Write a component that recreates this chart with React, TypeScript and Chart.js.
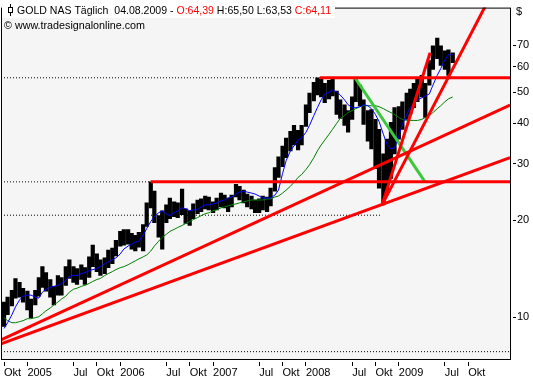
import { useEffect, useRef } from "react";
import { Chart, registerables } from "chart.js";

Chart.register(...registerables);

const FONT = '"Liberation Sans", Arial, sans-serif';

// Semi-monthly sampling of the daily bars (high / low envelope of each half month)
const dates: string[] = [
  "2004-10-01","2004-10-15","2004-11-01","2004-11-15","2004-12-01","2004-12-15",
  "2005-01-01","2005-01-15","2005-02-01","2005-02-15","2005-03-01","2005-03-15",
  "2005-04-01","2005-04-15","2005-05-01","2005-05-15","2005-06-01","2005-06-15",
  "2005-07-01","2005-07-15","2005-08-01","2005-08-15","2005-09-01","2005-09-15",
  "2005-10-01","2005-10-15","2005-11-01","2005-11-15","2005-12-01","2005-12-15",
  "2006-01-01","2006-01-15","2006-02-01","2006-02-15","2006-03-01","2006-03-15",
  "2006-04-01","2006-04-15","2006-05-01","2006-05-15","2006-06-01","2006-06-15",
  "2006-07-01","2006-07-15","2006-08-01","2006-08-15","2006-09-01","2006-09-15",
  "2006-10-01","2006-10-15","2006-11-01","2006-11-15","2006-12-01","2006-12-15",
  "2007-01-01","2007-01-15","2007-02-01","2007-02-15","2007-03-01","2007-03-15",
  "2007-04-01","2007-04-15","2007-05-01","2007-05-15","2007-06-01","2007-06-15",
  "2007-07-01","2007-07-15","2007-08-01","2007-08-15","2007-09-01","2007-09-15",
  "2007-10-01","2007-10-15","2007-11-01","2007-11-15","2007-12-01","2007-12-15",
  "2008-01-01","2008-01-15","2008-02-01","2008-02-15","2008-03-01","2008-03-15",
  "2008-04-01","2008-04-15","2008-05-01","2008-05-15","2008-06-01","2008-06-15",
  "2008-07-01","2008-07-15","2008-08-01","2008-08-15","2008-09-01","2008-09-15",
  "2008-10-01","2008-10-15","2008-11-01","2008-11-15","2008-12-01","2008-12-15",
  "2009-01-01","2009-01-15","2009-02-01","2009-02-15","2009-03-01","2009-03-15",
  "2009-04-01","2009-04-15","2009-05-01","2009-05-15","2009-06-01","2009-06-15",
  "2009-07-01","2009-07-15","2009-08-01",
];

const highs: number[] = [
  11.15,11.55,12.13,13.20,12.83,12.31,
  12.05,11.39,12.13,13.29,14.36,13.76,
  13.10,12.48,13.48,13.29,14.36,15.08,
  14.36,14.16,14.56,14.26,15.40,16.75,
  15.73,15.08,15.29,16.17,16.40,17.35,
  18.48,18.74,18.74,18.22,17.97,18.35,
  19.42,22.66,26.34,24.65,20.68,21.42,
  22.35,23.47,22.82,22.66,25.00,21.72,
  21.42,22.50,23.14,23.31,23.80,23.64,
  22.82,23.47,24.31,23.97,23.47,23.97,
  25.89,25.53,24.83,24.14,23.80,23.14,
  23.31,23.80,23.64,25.18,29.17,31.52,
  34.05,36.01,37.83,39.45,38.09,39.45,
  45.73,49.73,53.72,55.45,54.87,53.34,
  54.48,55.45,50.44,47.37,45.73,43.84,
  48.36,55.45,52.60,47.37,43.84,44.16,
  41.16,38.36,32.19,35.76,40.29,44.78,
  45.09,46.70,49.73,51.14,53.34,55.25,
  56.43,53.34,62.70,69.66,73.69,69.66,
  67.25,67.73,66.32,
];

const lows: number[] = [
  9.36,10.18,10.84,11.47,11.55,11.15,
  10.54,9.97,10.92,11.63,12.39,12.05,
  11.55,10.92,11.72,11.72,12.56,13.20,
  12.83,12.65,13.10,12.65,13.29,14.36,
  13.86,13.48,13.67,14.26,14.66,15.51,
  16.64,16.75,16.87,16.29,16.06,16.52,
  16.06,19.14,21.88,19.69,17.72,16.29,
  19.69,20.25,20.54,20.40,20.83,19.55,
  19.28,20.25,20.97,21.27,21.72,21.57,
  21.12,21.57,22.03,21.88,21.27,22.03,
  23.64,23.14,22.66,22.03,21.72,21.12,
  21.12,21.57,21.27,22.19,24.65,27.20,
  29.37,31.30,32.87,34.29,33.11,34.29,
  39.18,43.23,47.02,49.04,48.36,46.37,
  47.68,48.70,42.63,41.45,39.45,37.56,
  41.16,46.70,45.41,39.73,35.26,33.34,
  28.96,25.17,22.35,24.31,27.00,32.19,
  35.76,38.36,41.16,42.63,44.78,46.70,
  48.36,41.74,52.60,58.85,63.59,60.53,
  58.85,56.43,61.82,
];

// Fast moving average (blue)
const fastAvg: number[] = [
  9.23,9.62,10.18,10.77,11.31,11.63,
  11.72,11.72,11.55,11.47,11.97,12.22,
  12.39,12.48,12.56,12.74,13.01,13.38,
  13.48,13.48,13.67,13.76,13.96,14.06,
  14.16,14.36,14.66,14.87,15.08,15.29,
  15.73,16.29,16.64,16.87,17.11,17.23,
  17.97,18.87,19.83,20.54,21.12,21.42,
  20.97,20.68,21.12,21.42,21.88,21.72,
  21.42,21.57,21.57,22.03,22.35,22.35,
  22.50,22.66,22.98,23.14,23.47,23.64,
  24.14,24.48,24.65,24.48,24.31,24.14,
  23.80,23.47,23.47,23.47,23.97,24.83,
  27.97,30.64,32.87,34.05,35.51,36.01,
  37.56,39.45,42.33,44.78,47.37,49.39,
  50.08,50.79,50.08,49.04,47.37,45.73,
  44.78,44.78,45.09,45.73,45.41,44.46,
  42.63,40.58,37.04,34.53,33.34,33.57,
  36.52,39.73,42.63,44.78,46.05,47.37,
  48.02,48.70,49.39,52.60,56.43,59.27,
  63.14,65.40,65.40,
];

// Slow moving average (dark green)
const slowAvg: number[] = [
  9.97,9.76,9.62,9.62,9.69,9.76,
  9.90,9.90,9.97,10.04,10.25,10.47,
  10.69,10.92,11.15,11.39,11.63,11.97,
  12.22,12.31,12.48,12.56,12.74,12.92,
  13.10,13.20,13.48,13.67,13.86,14.06,
  14.26,14.36,14.56,14.77,14.97,15.18,
  15.40,15.62,16.06,16.64,17.23,17.72,
  18.10,18.48,18.75,19.01,19.28,19.55,
  19.83,20.11,20.40,20.68,20.97,21.12,
  21.42,21.57,21.88,22.03,22.19,22.35,
  22.50,22.66,22.82,22.98,23.14,23.14,
  23.14,23.14,23.31,23.31,23.64,23.80,
  24.31,24.83,25.53,26.25,27.20,27.77,
  28.77,29.79,31.30,32.87,34.29,35.51,
  37.04,38.36,40.01,41.45,42.33,43.23,
  43.84,44.46,45.09,45.41,45.41,45.41,
  45.41,45.09,44.46,43.84,43.23,42.63,
  41.74,41.16,40.87,40.87,40.87,40.87,
  41.16,41.74,42.33,43.23,44.46,45.41,
  46.70,47.68,48.36,
];

// Axis range and ticks
const axisStart = "2004-09-19";
const axisEnd = "2010-03-14";
const priceMin = 7.42;
const priceMax = 91.6;
const priceTicks: number[] = [10, 20, 30, 40, 50, 60, 70];
const timeTickDates: string[] = [
  "2004-10-01","2005-01-01","2005-07-01","2005-10-01","2006-01-01","2006-07-01",
  "2006-10-01","2007-01-01","2007-07-01","2007-10-01","2008-01-01","2008-07-01",
  "2008-10-01","2009-01-01","2009-07-01","2009-10-01",
];
const timeTickLabels: string[] = [
  "Okt","2005","Jul","Okt","2006","Jul","Okt","2007","Jul","Okt","2008","Jul","Okt","2009","Jul","Okt",
];

// Drawn lines: [date, price]
type Pt = [string, number];
const level2008: Pt[] = [["2008-02-25", 55.45], [axisEnd, 55.45]];
const level2006: Pt[] = [["2006-05-01", 26.34], [axisEnd, 26.34]];
const trendLower: Pt[] = [[axisStart, 8.27], [axisEnd, 31.33]];
const trendUpper: Pt[] = [[axisStart, 8.51], [axisEnd, 45.62]];
const fanWide: Pt[] = [["2008-10-27", 22.35], ["2009-12-06", 92.24]];
const fanSteep: Pt[] = [["2008-10-27", 22.35], ["2009-05-04", 66.31]];
const downTrend: Pt[] = [["2008-07-12", 55.45], ["2009-04-14", 26.34]];
const dotted2008: Pt[] = [[axisStart, 55.45], ["2008-02-25", 55.45]];
const dotted2006: Pt[] = [[axisStart, 26.34], ["2006-05-01", 26.34]];
const dottedMid: Pt[] = [[axisStart, 20.75], ["2008-10-20", 20.75]];
const dottedBase: Pt[] = [[axisStart, 7.82], [axisEnd, 7.82]];

const titleParts: [string, string][] = [
  ["GOLD NAS Täglich  04.08.2009 - ", "#000000"],
  ["O:64,39", "#ff0000"],
  [" H:65,50 L:63,53 ", "#000000"],
  ["C:64,11", "#ff0000"],
];
const copyright = "© www.tradesignalonline.com";
const currency = "$";

function toYear(s: string): number {
  const [y, m, d] = s.split("-").map(Number);
  const t = Date.UTC(y, m - 1, d);
  const a = Date.UTC(y, 0, 1);
  const b = Date.UTC(y + 1, 0, 1);
  return y + (t - a) / (b - a);
}

const seg = (pts: Pt[]) => pts.map(([d, p]) => ({ x: toYear(d), y: p }));
const series = (arr: number[]) => dates.map((d, i) => ({ x: toYear(d), y: arr[i] }));

export default function App() {
  const ref = useRef<HTMLCanvasElement | null>(null);

  useEffect(() => {
    document.body.style.margin = "0";
    const canvas = ref.current;
    if (!canvas) return;

    const framePlugin = {
      id: "frame",
      beforeDraw(chart: any) {
        const { ctx, chartArea: a } = chart;
        ctx.save();
        ctx.fillStyle = "#ffffff";
        ctx.fillRect(0, 0, chart.width, chart.height);
        ctx.fillStyle = "#f5f5f5";
        ctx.fillRect(a.left, a.top, a.right - a.left, a.bottom - a.top);
        ctx.restore();
      },
      afterDraw(chart: any) {
        const { ctx, chartArea: a } = chart;
        ctx.save();
        ctx.strokeStyle = "#000000";
        ctx.lineWidth = 1;
        ctx.strokeRect(a.left + 0.5, a.top + 0.5, a.right - a.left, a.bottom - a.top);

        // title box
        ctx.fillStyle = "#ffffff";
        ctx.fillRect(2, 2, 333, 16);
        // icon
        ctx.strokeStyle = "#000000";
        ctx.beginPath();
        ctx.moveTo(10.5, 4);
        ctx.lineTo(10.5, 16);
        ctx.stroke();
        ctx.fillStyle = "#ffffff";
        ctx.fillRect(8.5, 7.5, 4, 5);
        ctx.strokeRect(8.5, 7.5, 4, 5);

        ctx.font = `11px ${FONT}`;
        ctx.textBaseline = "alphabetic";
        ctx.textAlign = "left";
        const widths = titleParts.map(([t]) => ctx.measureText(t).width);
        const total = widths.reduce((s, w) => s + w, 0);
        ctx.save();
        ctx.translate(17, 14);
        ctx.scale(314 / total, 1);
        let x = 0;
        titleParts.forEach(([t, c], i) => {
          ctx.fillStyle = c;
          ctx.fillText(t, x, 0);
          x += widths[i];
        });
        ctx.restore();

        ctx.save();
        const cw = ctx.measureText(copyright).width;
        ctx.translate(4, 29);
        ctx.scale(141 / cw, 1);
        ctx.fillStyle = "#000000";
        ctx.fillText(copyright, 0, 0);
        ctx.restore();

        ctx.fillStyle = "#000000";
        ctx.fillText(currency, 516, 15);
        ctx.restore();
      },
    };

    const line = (data: any[], color: string, width: number, order: number, dash?: number[]) => ({
      type: "line" as const,
      data,
      borderColor: color,
      backgroundColor: color,
      borderWidth: width,
      borderDash: dash || [],
      pointRadius: 0,
      tension: 0,
      fill: false,
      order,
      spanGaps: true,
    });

    const chart = new Chart(canvas, {
      type: "bar",
      data: {
        datasets: [
          {
            type: "bar" as const,
            data: dates.map((d, i) => ({ x: toYear(d), y: [lows[i], highs[i]] })) as any,
            backgroundColor: "#000000",
            borderWidth: 0,
            barPercentage: 1,
            categoryPercentage: 1,
            order: 10,
          } as any,
          line(seg(dottedBase), "#000000", 1, 9, [1, 2]),
          line(seg(dottedMid), "#000000", 1, 9, [1, 2]),
          line(seg(dotted2006), "#000000", 1, 9, [1, 2]),
          line(seg(dotted2008), "#000000", 1, 9, [1, 2]),
          line(series(slowAvg), "#008000", 1, 6),
          line(series(fastAvg), "#0000ff", 1, 5),
          line(seg(downTrend), "#3cc83c", 3, 3),
          line(seg(level2008), "#ff0000", 3, 2),
          line(seg(level2006), "#ff0000", 3, 2),
          line(seg(trendLower), "#ff0000", 3, 2),
          line(seg(trendUpper), "#ff0000", 3, 2),
          line(seg(fanWide), "#ff0000", 3, 2),
          line(seg(fanSteep), "#ff0000", 3, 2),
        ] as any,
      },
      options: {
        animation: false,
        responsive: false,
        devicePixelRatio: 1,
        layout: { padding: { left: 1, top: 1, right: 0, bottom: 0 } },
        plugins: { legend: { display: false }, tooltip: { enabled: false }, title: { display: false } },
        scales: {
          x: {
            type: "linear",
            min: toYear(axisStart),
            max: toYear(axisEnd),
            offset: false,
            afterBuildTicks: (s: any) => {
              s.ticks = timeTickDates.map((d) => ({ value: toYear(d) }));
            },
            afterFit: (s: any) => {
              s.height = 21;
            },
            ticks: {
              autoSkip: false,
              maxRotation: 0,
              minRotation: 0,
              align: "start",
              padding: 0,
              color: "#000000",
              font: { family: FONT, size: 11 },
              callback: (_v: any, i: number) => timeTickLabels[i],
            },
            grid: {
              offset: false,
              drawOnChartArea: false,
              drawTicks: true,
              tickLength: 7,
              tickColor: "#000000",
              tickBorderDash: [0, 3, 4, 0],
            },
            border: { display: false },
          } as any,
          y: {
            type: "logarithmic",
            position: "right",
            min: priceMin,
            max: priceMax,
            afterBuildTicks: (s: any) => {
              s.ticks = priceTicks.map((v) => ({ value: v }));
            },
            afterFit: (s: any) => {
              s.width = 23;
            },
            ticks: {
              padding: 1,
              color: "#000000",
              font: { family: FONT, size: 11 },
              callback: (v: any) => String(v),
            },
            grid: {
              drawOnChartArea: false,
              drawTicks: true,
              tickLength: 6,
              tickColor: "#000000",
              tickBorderDash: [0, 3, 3, 0],
            },
            border: { display: false },
          } as any,
        },
      },
      plugins: [framePlugin],
    } as any);

    return () => chart.destroy();
  }, []);

  return (
    <div style={{ width: 533, height: 380 }}>
      <canvas ref={ref} width={533} height={380} style={{ display: "block" }} />
    </div>
  );
}
